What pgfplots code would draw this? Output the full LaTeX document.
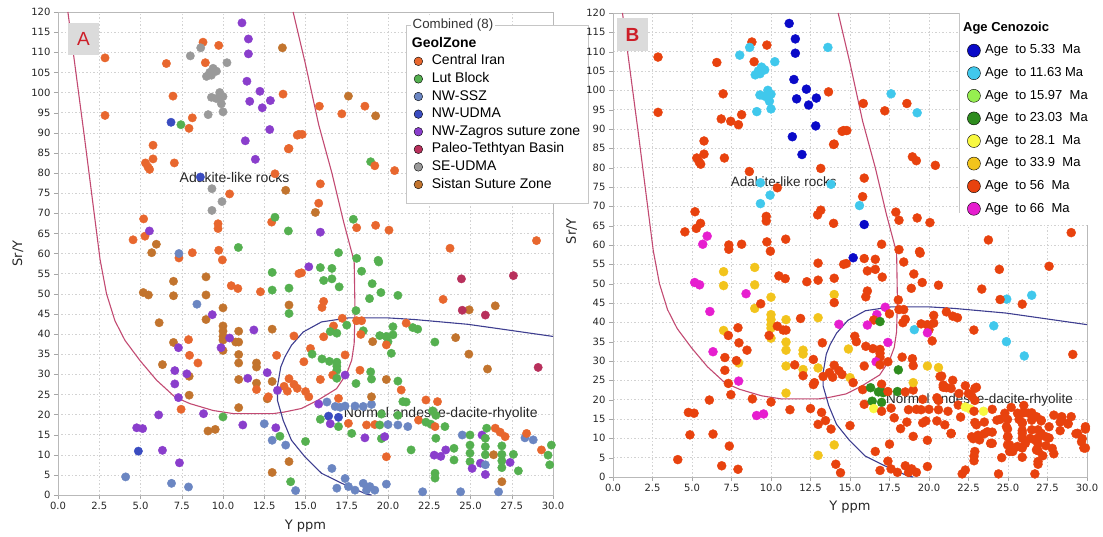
\documentclass[border=0pt]{standalone}
\usepackage{fontspec}
\setmainfont{DejaVu Sans}
\newfontfamily\lib{Liberation Sans}
\usepackage{pgfplots}
\usepackage{pgfplotstable}
\pgfplotsset{compat=1.18}

\definecolor{cCI}{HTML}{E8672E}
\definecolor{cLB}{HTML}{55B050}
\definecolor{cSSZ}{HTML}{6B86C2}
\definecolor{cUD}{HTML}{3A4CC0}
\definecolor{cZG}{HTML}{8A3ECC}
\definecolor{cPT}{HTML}{B8305C}
\definecolor{cSE}{HTML}{9A9A9A}
\definecolor{cSS}{HTML}{C2742E}
\definecolor{a5}{HTML}{0A0AC8}
\definecolor{a11}{HTML}{40C8EC}
\definecolor{a15}{HTML}{96EE50}
\definecolor{a23}{HTML}{2E8C1E}
\definecolor{a28}{HTML}{F8F840}
\definecolor{a33}{HTML}{F2C41C}
\definecolor{a56}{HTML}{E8420E}
\definecolor{a66}{HTML}{E61ECF}
\definecolor{adak}{HTML}{C24A72}
\definecolor{norm}{HTML}{3E3E90}

\pgfplotstableread{
x y z a
2.85 108.6 CI a56
2.85 94.3 CI a56
6.57 107.2 CI a56
6.97 99.1 CI a56
8.79 112.5 CI a56
9.74 111.7 CI a56
8.93 107.4 CI a56
8.14 93.7 CI a56
7.94 91.1 CI a56
13.6 111.1 SS a11
13.64 99.6 CI a56
14.5 89.4 CI a56
13.96 86.0 CI a56
5.76 86.9 CI a56
5.76 83.5 CI a56
5.3 82.5 CI a56
5.45 81.5 CI a56
5.55 80.9 CI a56
7.05 82.5 CI a56
13.15 79.8 CI a56
13.8 75.7 SS a11
10.4 74.8 CI a56
5.19 68.6 CI a56
4.55 63.4 CI a56
5.27 64.3 CI a56
5.96 62.3 SS a66
5.68 60.2 SS a66
8.14 60.2 CI a56
7.33 58.9 CI a56
9.74 60.8 CI a56
9.96 58.4 CI a56
9.7 67.4 CI a56
9.7 66.2 CI a56
12.95 67.8 CI a56
7.45 92.0 LB a56
6.85 92.6 UD a56
8.63 79.0 UD a56
7.33 60.0 SSZ a56
13.15 69.0 LB a56
13.96 65.6 LB a56
10.93 61.5 LB a56
8.02 109.1 SE a11
8.65 111.1 SE a11
10.24 107.4 SE a11
9.0 104.0 SE a11
9.2 105.0 SE a11
9.4 106.0 SE a11
9.6 105.3 SE a11
9.3 104.3 SE a11
9.8 100.0 SE a11
10.0 99.0 SE a11
9.6 98.5 SE a11
9.9 97.2 SE a11
10.0 95.2 SE a11
9.1 94.5 SE a11
9.3 98.8 SE a11
9.33 76.1 SE a11
9.94 72.9 SE a11
9.33 70.7 SE a11
11.15 117.3 ZG a5
11.54 113.3 ZG a5
11.54 109.6 ZG a5
11.45 102.8 ZG a5
12.24 100.3 ZG a5
11.62 97.8 ZG a5
12.38 96.2 ZG a5
12.87 98.0 ZG a5
12.83 90.8 ZG a5
11.35 88.0 ZG a5
11.96 83.4 ZG a5
5.54 65.6 ZG a56
15.84 96.6 CI a56
17.2 94.7 CI a56
17.6 99.1 SS a11
18.6 96.6 CI a56
19.25 94.2 SS a11
14.6 89.6 CI a56
14.8 89.6 CI a56
14.0 86.1 CI a56
18.95 82.8 LB a56
19.2 81.8 CI a56
20.4 80.6 CI a56
15.9 77.3 CI a56
15.8 72.5 CI a56
15.6 70.2 SS a11
17.9 68.5 LB a56
18.1 66.4 CI a56
19.25 67.0 CI a56
20.06 65.8 CI a56
15.9 65.3 ZG a5
23.76 61.3 CI a56
29.0 63.2 CI a56
17.0 60.2 LB a56
18.1 58.8 LB a56
19.4 58.3 LB a56
15.2 56.7 ZG a5
15.9 56.5 LB a56
16.6 56.3 LB a56
5.17 50.3 SS a66
5.48 49.7 SS a66
7.0 53.1 SS a33
7.0 49.5 SS a33
8.97 54.2 SS a33
8.97 49.7 SS a33
10.0 46.5 SS a33
6.13 42.8 SS a66
8.97 43.6 SS a33
10.0 42.0 SS a33
10.0 40.7 SS a33
10.0 39.4 SS a33
10.0 38.5 SS a33
10.0 35.9 SS a33
7.0 37.9 SS a33
6.33 32.4 SS a66
10.95 40.7 SS a33
10.95 38.0 SS a56
10.77 38.0 SS a56
10.95 34.9 SS a33
10.95 32.8 SS a33
10.95 28.7 SS a33
12.03 32.8 SS a33
12.03 31.8 SS a33
12.03 27.8 SS a33
12.98 41.2 SS a33
12.98 28.2 SS a33
12.68 23.9 SS a56
10.95 21.7 SS a33
7.95 24.8 SS a66
7.95 29.5 SS a33
9.09 15.9 SS a66
9.53 16.3 SS a66
14.0 47.2 SS a33
12.98 5.6 SS a33
14.0 8.3 SS a33
10.5 52.0 CI a56
10.9 51.3 CI a56
12.27 50.5 CI a56
14.6 55.0 CI a56
7.91 38.6 CI a56
7.97 34.7 CI a56
8.48 32.8 CI a56
7.46 21.3 CI a56
12.03 26.2 CI a56
13.25 34.7 CI a56
14.3 39.5 CI a66
13.7 27.0 CI a56
14.0 28.9 CI a56
14.3 27.5 CI a56
14.5 26.5 CI a56
13.9 25.8 CI a56
12.75 24.4 CI a56
7.3 36.6 ZG a56
9.88 36.6 ZG a56
10.4 39.0 ZG a56
9.35 44.8 ZG a56
11.87 41.0 ZG a56
7.08 30.9 ZG a56
7.08 27.6 ZG a56
7.81 30.1 ZG a56
7.3 24.2 ZG a56
11.5 29.0 ZG a56
12.68 30.4 ZG a56
13.3 26.0 ZG a56
6.1 19.9 ZG a56
8.82 20.2 ZG a56
4.77 16.7 ZG a56
5.13 16.5 ZG a56
11.2 17.4 ZG a56
13.2 16.7 ZG a56
6.33 11.1 ZG a56
7.36 8.0 ZG a56
8.42 47.4 SSZ a66
12.5 17.7 SSZ a56
12.98 13.6 SSZ a56
13.8 12.4 SSZ a56
4.1 4.5 SSZ a56
6.88 2.9 SSZ a56
7.91 2.0 SSZ a56
14.4 1.1 SSZ a56
4.87 10.9 UD a56
10.0 19.4 LB a56
12.98 55.3 LB a56
12.98 50.9 LB a56
14.0 51.4 LB a56
14.0 45.1 LB a56
13.45 14.6 LB a56
14.1 3.3 LB a56
15.0 13.3 LB a56
14.76 55.2 CI a56
16.1 48.1 CI a56
16.0 46.6 CI a56
23.34 48.6 CI a56
24.92 46.0 SS a11
26.5 47.0 SS a11
24.45 53.7 PT a56
27.6 54.5 PT a56
24.5 45.9 PT a56
25.9 44.7 PT a56
29.1 31.7 PT a56
24.1 39.1 SS a11
24.9 35.0 SS a11
26.03 31.3 SS a11
22.84 38.0 LB a56
20.6 49.6 LB a56
19.57 50.3 LB a56
19.04 52.5 LB a56
18.88 48.8 LB a56
19.44 57.9 LB a56
18.4 55.6 LB a56
17.04 51.7 LB a56
16.1 53.3 LB a56
16.6 53.7 LB a56
18.06 45.8 LB a56
18.1 43.3 CI a56
18.4 43.3 CI a56
17.23 43.9 CI a66
16.7 42.0 CI a66
17.5 42.2 LB a56
16.5 40.6 LB a56
16.9 40.2 LB a23
16.1 39.3 CI a66
18.5 40.8 LB a56
18.35 39.9 CI a56
19.07 38.1 SS a11
19.5 39.6 LB a56
19.9 39.4 LB a56
20.3 39.8 LB a56
20.0 38.1 LB a56
19.9 37.3 CI a66
20.2 35.2 LB a56
20.3 41.8 LB a56
21.5 41.6 LB a56
21.8 41.2 LB a56
21.1 42.7 CI a56
15.3 36.4 CI a56
15.4 35.0 LB a56
14.9 33.1 CI a33
16.0 33.8 LB a56
16.45 33.2 LB a56
16.9 33.0 LB a56
16.9 32.0 LB a56
16.9 31.0 LB a56
17.4 34.8 CI a66
17.4 29.8 ZG a56
16.65 29.8 CI a66
15.9 28.7 CI a56
16.9 29.0 LB a56
18.3 31.0 CI a56
18.95 30.6 LB a56
19.0 28.8 LB a56
19.9 28.7 SS a33
18.06 27.7 LB a23
20.6 28.3 LB a33
20.8 26.1 CI a56
15.0 25.7 CI a33
15.2 24.4 CI a56
17.0 24.0 CI a56
15.8 22.6 ZG a56
16.3 23.1 SSZ a23
16.8 22.0 SSZ a23
17.1 21.8 SSZ a23
17.4 22.1 SSZ a56
18.0 22.1 SSZ a23
18.5 22.0 SSZ a56
19.0 22.5 SSZ a56
15.9 18.8 LB a56
16.4 19.6 UD a23
17.0 19.3 UD a23
16.5 17.7 ZG a28
17.0 17.0 LB a56
17.6 17.8 CI a56
18.7 17.4 CI a56
19.6 20.1 LB a56
19.2 17.5 CI a56
19.5 17.4 LB a56
20.0 17.5 SSZ a56
17.8 15.3 LB a56
18.6 14.2 ZG a56
19.6 14.0 LB a56
19.8 14.5 ZG a56
20.6 19.8 LB a56
19.0 24.4 SS a33
21.1 23.1 LB a56
20.9 23.2 LB a56
22.3 23.6 CI a56
23.0 23.2 CI a56
20.6 17.4 SSZ a56
21.2 17.0 SSZ a56
21.85 18.6 CI a56
22.3 18.1 LB a28
22.6 17.6 LB a28
22.85 17.0 CI a56
23.45 17.0 LB a28
22.7 20.9 LB a56
22.9 19.8 LB a56
22.9 14.1 LB a56
21.4 11.2 LB a56
22.8 9.9 ZG a56
23.2 9.6 ZG a56
23.5 11.2 ZG a56
24.0 11.6 LB a56
24.0 8.7 LB a56
22.85 5.4 LB a56
22.85 4.2 LB a56
24.5 14.9 SSZ a56
24.97 14.9 LB a56
24.97 12.4 LB a56
24.97 10.4 LB a56
24.97 8.3 LB a56
25.1 6.6 ZG a56
25.6 7.9 ZG a56
25.7 14.9 ZG a56
25.98 16.6 LB a56
25.9 14.1 LB a56
25.9 12.0 LB a56
25.9 10.0 LB a56
25.9 7.5 SSZ a56
25.9 5.1 ZG a56
26.5 16.6 CI a56
26.8 15.6 CI a56
27.1 14.5 CI a56
26.4 10.0 SS a56
26.9 12.2 LB a56
26.9 10.1 LB a56
26.9 8.5 LB a56
26.9 6.8 LB a56
27.4 8.1 ZG a56
26.9 3.3 SS a56
27.6 10.1 LB a56
27.9 6.0 LB a56
28.3 14.2 SSZ a56
28.8 13.7 SSZ a56
28.4 15.3 CI a56
29.3 11.2 CI a56
29.7 9.9 LB a56
29.8 7.5 LB a56
29.9 12.4 LB a56
26.7 0.8 SSZ a56
24.4 0.8 SSZ a56
22.1 0.8 SSZ a56
19.9 9.5 CI a56
19.9 2.7 SSZ a56
16.6 6.6 SSZ a56
16.9 1.7 SSZ a56
17.4 4.1 SSZ a56
17.6 2.1 SSZ a56
18.0 1.2 SSZ a56
18.5 2.9 SSZ a56
18.7 1.2 SSZ a56
18.9 2.1 SSZ a56
19.2 1.2 SSZ a56
}\pts

\pgfplotstableread{
x y a
20.7 26.0 a56
20.9 23.8 a56
21.4 22.9 a56
21.9 21.6 a56
22.5 21.6 a56
22.9 22.9 a56
24.3 14.7 a56
24.8 16.5 a56
24.9 13.0 a56
25.0 10.4 a56
25.1 8.3 a56
25.3 6.6 a56
25.6 16.5 a56
25.9 13.9 a56
25.9 11.3 a56
26.1 8.7 a56
26.3 16.5 a56
26.5 14.7 a56
26.5 12.2 a56
26.7 9.6 a56
26.8 7.0 a56
26.9 4.0 a56
27.1 14.7 a56
27.1 11.3 a56
27.4 10.4 a56
27.6 13.0 a56
27.8 7.4 a56
28.4 15.6 a56
28.8 13.9 a56
29.0 15.6 a56
29.4 11.3 a56
29.65 9.1 a56
29.9 13.0 a56
23.1 10.8 a56
22.7 10.4 a56
23.7 11.7 a56
23.9 8.7 a56
22.9 6.6 a56
21.4 11.3 a56
22.3 1.8 a56
18.2 12.5 a56
19.0 10.5 a56
17.5 8.5 a56
20.5 14.5 a56
21.0 13.5 a56
22.0 15.5 a56
23.0 13.5 a56
24.0 17.5 a56
29.9 7.5 a56
28.3 12.0 a56
27.9 16.0 a56
26.0 18.5 a56
25.2 18.0 a56
23.5 14.2 a56
20.5 20.5 a56
21.5 25.0 a56
27.2 5.5 a56
24.6 5.0 a56
}\extra

\pgfplotsset{
  basestyle/.style={
    scale only axis,
    xmin=0, xmax=30, ymin=0, ymax=120,
    xtick={0,2.5,5,7.5,10,12.5,15,17.5,20,22.5,25,27.5,30},
    xticklabels={0.0,2.5,5.0,7.5,10.0,12.5,15.0,17.5,20.0,22.5,25.0,27.5,30.0},
    ytick={0,5,10,15,20,25,30,35,40,45,50,55,60,65,70,75,80,85,90,95,100,105,110,115,120},
    grid=major,
    grid style={gray!35, dash pattern=on 1.5pt off 2pt},
    axis line style={gray!55},
    tick pos=left, tick align=outside, major tick length=4pt,
    tick style={gray!70},
    ticklabel style={font=\fontsize{10}{12}\selectfont, text=black!85},
    /pgf/number format/assume math mode=true,
    xlabel={Y ppm}, ylabel={Sr/Y},
    label style={font=\fontsize{13}{15}\selectfont, text=black!85},
    legend cell align=left,
  },
  classA/.style={
    scatter, only marks, scatter src=explicit symbolic, mark=*, mark size=4.2pt,
    scatter/classes={
      CI={draw=cCI,fill=cCI}, LB={draw=cLB,fill=cLB}, SSZ={draw=cSSZ,fill=cSSZ},
      UD={draw=cUD,fill=cUD}, ZG={draw=cZG,fill=cZG}, PT={draw=cPT,fill=cPT},
      SE={draw=cSE,fill=cSE}, SS={draw=cSS,fill=cSS}}
  },
  classB/.style={
    scatter, only marks, scatter src=explicit symbolic, mark=*, mark size=4.5pt,
    scatter/classes={
      a5={draw=a5,fill=a5}, a11={draw=a11,fill=a11}, a15={draw=a15,fill=a15},
      a23={draw=a23,fill=a23}, a28={draw=a28,fill=a28}, a33={draw=a33,fill=a33},
      a56={draw=a56,fill=a56}, a66={draw=a66,fill=a66}}
  },
}

\begin{document}
\begin{tikzpicture}
\useasboundingbox (0pt,0pt) rectangle (1103pt,-537pt);

% ---------------- Panel A ----------------
\begin{axis}[basestyle,
  at={(58pt,-495pt)}, anchor=south west, width=495pt, height=483pt,
  xlabel style={at={(axis description cs:0.5,-0.064)}, anchor=center},
  ylabel style={at={(axis description cs:-0.081,0.5)}, anchor=center},
  legend image code/.code={\fill[#1] (0pt,0pt) circle (4.3pt);},
  legend style={at={(rel axis cs:0.703,0.973)}, anchor=north west,
    draw=gray!45, fill=white, font=\lib\fontsize{14}{16}\selectfont,
    inner xsep=7.7pt, inner ysep=12pt, row sep=4.6pt,
    nodes={inner sep=0pt, text height=10pt, text depth=3pt},
    /tikz/every odd column/.append style={column sep=9pt}},
]
\addplot[adak, line width=1.1pt, forget plot] coordinates {
(0.6,120) (1.6,89) (2.55,58.5) (2.94,50) (3.45,43.3) (4.06,38.4) (4.97,33.4)
(5.98,28.5) (7.1,24.3) (8.0,22.7) (9.4,21.0) (10.65,20.2) (13.0,20.2) (13.7,20.6)
(14.76,21.5) (15.77,23.6) (16.88,26.4) (17.5,30.2) (17.8,33.5) (17.95,37.6)
(18.0,45.9) (17.95,58) (17.3,68) (16.6,80) (15.8,92) (15.0,107) (14.25,120)};
\addplot[norm, line width=1.1pt, forget plot] coordinates {
(30,39.4) (24.86,42.4) (21.6,43.6) (20.0,44.0) (17.6,44.0) (15.97,43.0) (14.86,40.5)
(14.15,37.2) (13.75,34.3) (13.5,31.8) (13.3,27) (13.3,23.5) (13.65,18.5) (14.15,13.6)
(14.96,9.5) (15.97,5.4) (17.2,2.9) (18.7,0.2) (19,0)};
\addplot[classA, forget plot] table[x=x, y=y, meta=z] {\pts};
\node[font=\lib\fontsize{14}{16}\selectfont, text=black!85] at (axis cs:10.7,78.8) {Adakite-like rocks};
\node[font=\lib\fontsize{14}{16}\selectfont, text=black!85] at (axis cs:23.2,20.1) {Normal andesite-dacite-rhyolite};
\addlegendimage{empty legend}\addlegendentry{\hspace*{-20pt}\textbf{GeolZone}}
\addlegendimage{fill=cCI}\addlegendentry{Central Iran}
\addlegendimage{fill=cLB}\addlegendentry{Lut Block}
\addlegendimage{fill=cSSZ}\addlegendentry{NW-SSZ}
\addlegendimage{fill=cUD}\addlegendentry{NW-UDMA}
\addlegendimage{fill=cZG}\addlegendentry{NW-Zagros suture zone}
\addlegendimage{fill=cPT}\addlegendentry{Paleo-Tethtyan Basin}
\addlegendimage{fill=cSE}\addlegendentry{SE-UDMA}
\addlegendimage{fill=cSS}\addlegendentry{Sistan Suture Zone}
\end{axis}

% ---------------- Panel B ----------------
\begin{axis}[basestyle,
  at={(613pt,-477pt)}, anchor=south west, width=474pt, height=464pt,
  xlabel style={at={(axis description cs:0.5,-0.065)}, anchor=center},
  ylabel style={at={(axis description cs:-0.087,0.53)}, anchor=center},
  legend image code/.code={\fill[#1] (0pt,0pt) circle (6.5pt);},
  legend style={at={(rel axis cs:0.73,1)}, anchor=north west,
    draw=none, fill=white, font=\lib\fontsize{13}{15}\selectfont,
    inner xsep=8pt, inner ysep=9pt, row sep=9.2pt,
    nodes={inner sep=0pt, text height=9.5pt, text depth=3pt},
    /tikz/every odd column/.append style={column sep=4.5pt}},
]
\addplot[adak, line width=1.1pt, forget plot] coordinates {
(0.6,120) (1.6,89) (2.55,58.5) (2.94,50) (3.45,43.3) (4.06,38.4) (4.97,33.4)
(5.98,28.5) (7.1,24.3) (8.0,22.7) (9.4,21.0) (10.65,20.2) (13.0,20.2) (13.7,20.6)
(14.76,21.5) (15.77,23.6) (16.88,26.4) (17.5,30.2) (17.8,33.5) (17.95,37.6)
(18.0,45.9) (17.95,58) (17.3,68) (16.6,80) (15.8,92) (15.0,107) (14.25,120)};
\addplot[norm, line width=1.1pt, forget plot] coordinates {
(30,39.4) (24.86,42.4) (21.6,43.6) (20.0,44.0) (17.6,44.0) (15.97,43.0) (14.86,40.5)
(14.15,37.2) (13.75,34.3) (13.5,31.8) (13.3,27) (13.3,23.5) (13.65,18.5) (14.15,13.6)
(14.96,9.5) (15.97,5.4) (17.2,2.9) (18.7,0.2) (19,0)};
\addplot[classB, forget plot] table[x=x, y=y, meta=a] {\extra};
\addplot[classB, forget plot] table[x=x, y=y, meta=a] {\pts};
\node[font=\lib\fontsize{13.5}{16}\selectfont, text=black!85] at (axis cs:10.8,76.4) {Adakite-like rocks};
\node[font=\lib\fontsize{13.5}{16}\selectfont, text=black!85] at (axis cs:23.2,19.9) {Normal andesite-dacite-rhyolite};
\addlegendimage{empty legend}\addlegendentry{\hspace*{-22pt}\textbf{Age Cenozoic}}
\addlegendimage{fill=a5}\addlegendentry{Age~~to 5.33~~Ma}
\addlegendimage{fill=a11}\addlegendentry{Age~~to 11.63 Ma}
\addlegendimage{fill=a15}\addlegendentry{Age~~to 15.97~~Ma}
\addlegendimage{fill=a23}\addlegendentry{Age~~to 23.03~~Ma}
\addlegendimage{fill=a28}\addlegendentry{Age~~to 28.1~~Ma}
\addlegendimage{fill=a33}\addlegendentry{Age~~to 33.9~~Ma}
\addlegendimage{fill=a56}\addlegendentry{Age~~to 56~~Ma}
\addlegendimage{fill=a66}\addlegendentry{Age~~to 66~~Ma}
\end{axis}

% decorations
\node[fill=white, inner sep=1.5pt, anchor=west, font=\lib\fontsize{13.3}{15}\selectfont, text=black!80] at (411pt,-25pt) {Combined (8)};
\draw[gray!45] (959pt,-13pt) -- (959pt,-213pt);
\node[fill=gray!28, minimum width=31pt, minimum height=32pt, inner sep=0pt,
  font=\lib\fontsize{19}{20}\selectfont, text={rgb,255:red,205;green,30;blue,40}] at (83.5pt,-39pt) {A};
\node[fill=gray!28, minimum width=31pt, minimum height=33pt, inner sep=0pt,
  font=\lib\bfseries\fontsize{19}{20}\selectfont, text={rgb,255:red,205;green,30;blue,40}] at (632.5pt,-34.5pt) {B};
\end{tikzpicture}
\end{document}
